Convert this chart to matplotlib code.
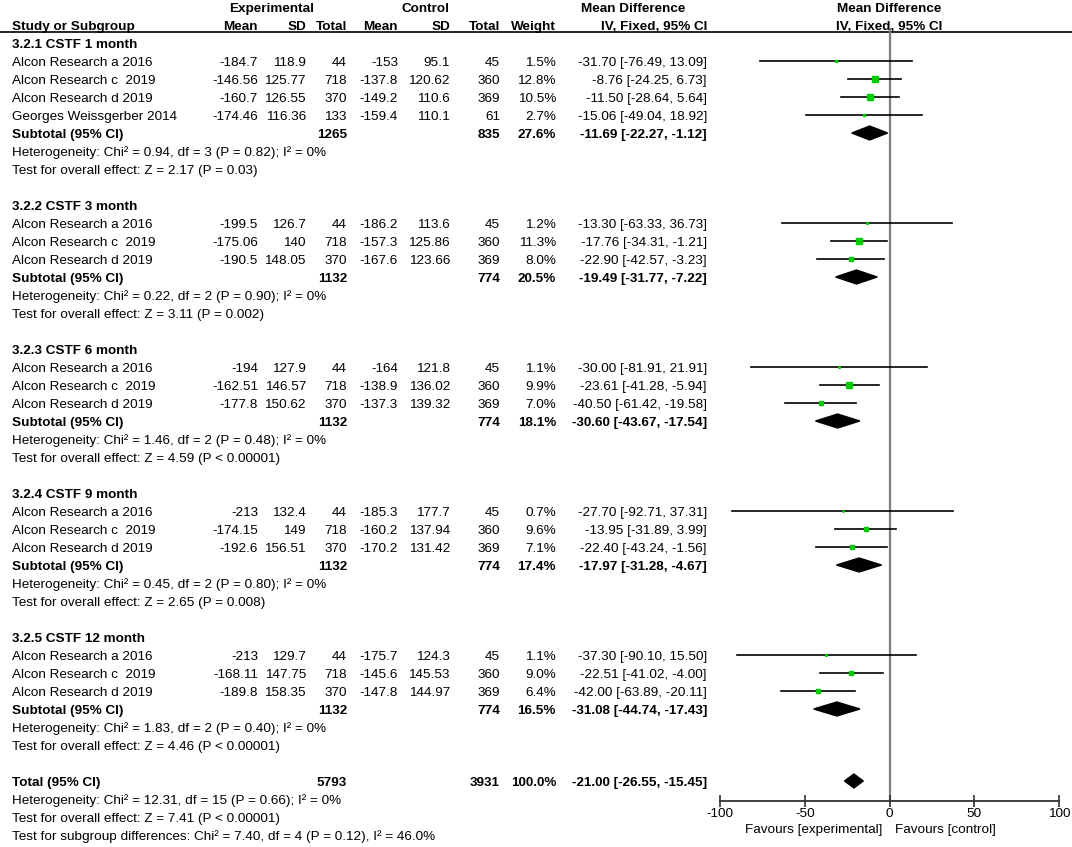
import matplotlib
matplotlib.use("Agg")
import matplotlib.pyplot as plt
from matplotlib.patches import Polygon

plt.rcParams['font.family'] = ['Liberation Sans', 'DejaVu Sans']

# ---- data ----
groups = ['3.2.1 CSTF 1 month', '3.2.2 CSTF 3 month', '3.2.3 CSTF 6 month',
          '3.2.4 CSTF 9 month', '3.2.5 CSTF 12 month']

studies = [
    ['Alcon Research a 2016', 'Alcon Research c  2019', 'Alcon Research d 2019', 'Georges Weissgerber 2014'],
    ['Alcon Research a 2016', 'Alcon Research c  2019', 'Alcon Research d 2019'],
    ['Alcon Research a 2016', 'Alcon Research c  2019', 'Alcon Research d 2019'],
    ['Alcon Research a 2016', 'Alcon Research c  2019', 'Alcon Research d 2019'],
    ['Alcon Research a 2016', 'Alcon Research c  2019', 'Alcon Research d 2019'],
]

exp_mean = [[-184.7, -146.56, -160.7, -174.46], [-199.5, -175.06, -190.5],
            [-194, -162.51, -177.8], [-213, -174.15, -192.6], [-213, -168.11, -189.8]]
exp_sd = [[118.9, 125.77, 126.55, 116.36], [126.7, 140, 148.05],
          [127.9, 146.57, 150.62], [132.4, 149, 156.51], [129.7, 147.75, 158.35]]
exp_n = [[44, 718, 370, 133], [44, 718, 370], [44, 718, 370], [44, 718, 370], [44, 718, 370]]
ctl_mean = [[-153, -137.8, -149.2, -159.4], [-186.2, -157.3, -167.6],
            [-164, -138.9, -137.3], [-185.3, -160.2, -170.2], [-175.7, -145.6, -147.8]]
ctl_sd = [[95.1, 120.62, 110.6, 110.1], [113.6, 125.86, 123.66],
          [121.8, 136.02, 139.32], [177.7, 137.94, 131.42], [124.3, 145.53, 144.97]]
ctl_n = [[45, 360, 369, 61], [45, 360, 369], [45, 360, 369], [45, 360, 369], [45, 360, 369]]
weight = [[1.5, 12.8, 10.5, 2.7], [1.2, 11.3, 8.0], [1.1, 9.9, 7.0], [0.7, 9.6, 7.1], [1.1, 9.0, 6.4]]
md = [[-31.70, -8.76, -11.50, -15.06], [-13.30, -17.76, -22.90], [-30.00, -23.61, -40.50],
      [-27.70, -13.95, -22.40], [-37.30, -22.51, -42.00]]
ci_lo = [[-76.49, -24.25, -28.64, -49.04], [-63.33, -34.31, -42.57], [-81.91, -41.28, -61.42],
         [-92.71, -31.89, -43.24], [-90.10, -41.02, -63.89]]
ci_hi = [[13.09, 6.73, 5.64, 18.92], [36.73, -1.21, -3.23], [21.91, -5.94, -19.58],
         [37.31, 3.99, -1.56], [15.50, -4.00, -20.11]]

sub_exp_n = [1265, 1132, 1132, 1132, 1132]
sub_ctl_n = [835, 774, 774, 774, 774]
sub_weight = [27.6, 20.5, 18.1, 17.4, 16.5]
sub_md = [-11.69, -19.49, -30.60, -17.97, -31.08]
sub_lo = [-22.27, -31.77, -43.67, -31.28, -44.74]
sub_hi = [-1.12, -7.22, -17.54, -4.67, -17.43]
het_text = ['Heterogeneity: Chi² = 0.94, df = 3 (P = 0.82); I² = 0%',
            'Heterogeneity: Chi² = 0.22, df = 2 (P = 0.90); I² = 0%',
            'Heterogeneity: Chi² = 1.46, df = 2 (P = 0.48); I² = 0%',
            'Heterogeneity: Chi² = 0.45, df = 2 (P = 0.80); I² = 0%',
            'Heterogeneity: Chi² = 1.83, df = 2 (P = 0.40); I² = 0%']
z_text = ['Test for overall effect: Z = 2.17 (P = 0.03)',
          'Test for overall effect: Z = 3.11 (P = 0.002)',
          'Test for overall effect: Z = 4.59 (P < 0.00001)',
          'Test for overall effect: Z = 2.65 (P = 0.008)',
          'Test for overall effect: Z = 4.46 (P < 0.00001)']

total_exp_n, total_ctl_n, total_weight = 5793, 3931, 100.0
total_md, total_lo, total_hi = -21.00, -26.55, -15.45
total_notes = ['Heterogeneity: Chi² = 12.31, df = 15 (P = 0.66); I² = 0%',
               'Test for overall effect: Z = 7.41 (P < 0.00001)',
               'Test for subgroup differences: Chi² = 7.40, df = 4 (P = 0.12), I² = 46.0%']

# ---- layout (pixels) ----
W, H = 1072, 847
y0, step = 45, 18
fs = 9.7
col_x = [258, 306, 347, 398, 450, 500, 556, 707]   # right edges of numeric columns
axis_y = 801

fig = plt.figure(figsize=(W / 100, H / 100), dpi=100)
tx = fig.add_axes([0, 0, 1, 1])
tx.set_xlim(0, W)
tx.set_ylim(H, 0)
tx.axis('off')

fx = fig.add_axes([720 / W, (H - axis_y) / H, 339 / W, axis_y / H])
fx.set_xlim(-100, 100)
fx.set_ylim(axis_y, 0)
fx.patch.set_alpha(0)
for s in ['top', 'left', 'right']:
    fx.spines[s].set_visible(False)
fx.spines['bottom'].set_color('#333333')
fx.spines['bottom'].set_linewidth(1.3)
fx.set_yticks([])
fx.set_xticks([-100, -50, 0, 50, 100])
fx.set_xticklabels(['-100', '-50', '0', '50', '100'])
fx.tick_params(axis='x', direction='inout', length=8, width=1.2, colors='#333333',
               labelcolor='black', labelsize=fs, pad=1)
fx.vlines(0, 28, axis_y, color='#7f7f7f', lw=1.6, zorder=1)


def txt(x, y, s, ha='right', bold=False):
    tx.text(x, y, s, ha=ha, va='center', fontsize=fs,
            fontweight='bold' if bold else 'normal')


def ci_str(m, lo, hi):
    return f'{m:.2f} [{lo:.2f}, {hi:.2f}]'


def diamond(m, lo, hi, y):
    fx.add_patch(Polygon([(lo, y), (m, y - 7), (hi, y), (m, y + 7)],
                         closed=True, color='black', zorder=3))


# headers
txt(272, 9, 'Experimental', ha='center', bold=True)
txt(425, 9, 'Control', ha='center', bold=True)
txt(633, 9, 'Mean Difference', ha='center', bold=True)
txt(889, 9, 'Mean Difference', ha='center', bold=True)
txt(12, 27, 'Study or Subgroup', ha='left', bold=True)
for x, lab in zip(col_x, ['Mean', 'SD', 'Total', 'Mean', 'SD', 'Total', 'Weight', 'IV, Fixed, 95% CI']):
    txt(x, 27, lab, bold=True)
txt(889, 27, 'IV, Fixed, 95% CI', ha='center', bold=True)
tx.plot([0, W], [32, 32], color='black', lw=1.2)

row = 0
for g in range(len(groups)):
    txt(12, y0 + step * row, groups[g], ha='left', bold=True)
    row += 1
    for i in range(len(studies[g])):
        y = y0 + step * row
        txt(12, y, studies[g][i], ha='left')
        vals = [f'{exp_mean[g][i]:g}', f'{exp_sd[g][i]:g}', str(exp_n[g][i]),
                f'{ctl_mean[g][i]:g}', f'{ctl_sd[g][i]:g}', str(ctl_n[g][i]),
                f'{weight[g][i]:.1f}%', ci_str(md[g][i], ci_lo[g][i], ci_hi[g][i])]
        for x, v in zip(col_x, vals):
            txt(x, y, v)
        fx.plot([ci_lo[g][i], ci_hi[g][i]], [y - 2, y - 2], color='black', lw=1.2, zorder=2)
        fx.plot(md[g][i], y - 2, marker='s', ms=1.15 * weight[g][i] ** 0.5, color='#00cc00',
                mec='#00cc00', zorder=3)
        row += 1
    y = y0 + step * row
    txt(12, y, 'Subtotal (95% CI)', ha='left', bold=True)
    txt(col_x[2], y, str(sub_exp_n[g]), bold=True)
    txt(col_x[5], y, str(sub_ctl_n[g]), bold=True)
    txt(col_x[6], y, f'{sub_weight[g]:.1f}%', bold=True)
    txt(col_x[7], y, ci_str(sub_md[g], sub_lo[g], sub_hi[g]), bold=True)
    diamond(sub_md[g], sub_lo[g], sub_hi[g], y - 2)
    row += 1
    txt(12, y0 + step * row, het_text[g], ha='left')
    row += 1
    txt(12, y0 + step * row, z_text[g], ha='left')
    row += 2

y = y0 + step * row
txt(12, y, 'Total (95% CI)', ha='left', bold=True)
txt(col_x[2], y, str(total_exp_n), bold=True)
txt(col_x[5], y, str(total_ctl_n), bold=True)
txt(col_x[6], y, f'{total_weight:.1f}%', bold=True)
txt(col_x[7], y, ci_str(total_md, total_lo, total_hi), bold=True)
diamond(total_md, total_lo, total_hi, y - 2)
row += 1
for note in total_notes:
    txt(12, y0 + step * row, note, ha='left')
    row += 1

txt(882, 830, 'Favours [experimental]', ha='right')
txt(895, 830, 'Favours [control]', ha='left')

fig.savefig('out.png', dpi=100)
